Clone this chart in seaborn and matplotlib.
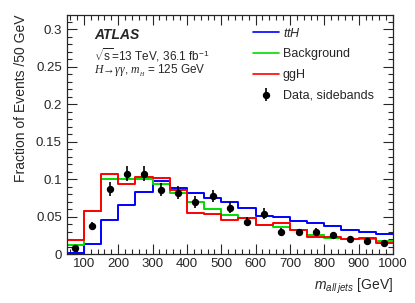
import matplotlib
matplotlib.use("Agg")
import matplotlib.pyplot as plt
from matplotlib.ticker import MultipleLocator
from matplotlib.lines import Line2D
import seaborn as sns
import numpy as np
import pandas as pd

# bin edges of m_all jets [GeV], 50 GeV wide
edges = list(range(50, 1001, 50))
centers = [e + 25 for e in edges[:-1]]

tth = [0.002, 0.013, 0.046, 0.066, 0.083, 0.098, 0.088, 0.082, 0.075, 0.069,
       0.062, 0.051, 0.050, 0.044, 0.041, 0.037, 0.032, 0.030, 0.027]
background = [0.012, 0.057, 0.100, 0.100, 0.100, 0.093, 0.081, 0.069, 0.060, 0.052,
              0.048, 0.039, 0.036, 0.032, 0.025, 0.022, 0.020, 0.020, 0.017]
ggh = [0.019, 0.058, 0.107, 0.094, 0.103, 0.102, 0.085, 0.055, 0.054, 0.045,
       0.048, 0.039, 0.041, 0.032, 0.023, 0.023, 0.020, 0.021, 0.015]
data = [0.008, 0.037, 0.087, 0.107, 0.107, 0.086, 0.082, 0.069, 0.078, 0.062,
        0.043, 0.054, 0.030, 0.029, 0.030, 0.025, 0.020, 0.018, 0.015]
data_err = [0.004, 0.0055, 0.009, 0.010, 0.010, 0.009, 0.009, 0.008, 0.008, 0.007,
            0.006, 0.007, 0.005, 0.005, 0.005, 0.004, 0.004, 0.003, 0.003]

sns.set_style("ticks")
plt.rcParams["font.family"] = ["Liberation Sans", "DejaVu Sans"]
plt.rcParams["mathtext.fontset"] = "custom"
plt.rcParams["mathtext.rm"] = "Liberation Sans"
plt.rcParams["mathtext.it"] = "Liberation Serif:italic"
plt.rcParams["mathtext.sf"] = "Liberation Sans:italic"

fig = plt.figure(figsize=(4.15, 3.03), dpi=100)
ax = fig.add_axes([0.1607, 0.1617, 0.947 - 0.1607, 0.9505 - 0.1617])

series = [("ttH", tth, "#0000ff"), ("Background", background, "#00dd00"), ("ggH", ggh, "#ff0000")]
for name, vals, color in series:
    df = pd.DataFrame({"m": centers, "w": vals})
    sns.histplot(data=df, x="m", weights="w", bins=edges, element="step", fill=False,
                 color=color, linewidth=1.4, ax=ax)

eb = ax.errorbar(centers, data, yerr=data_err, fmt="o", color="black", markersize=4.3,
                 elinewidth=1.2, capsize=0)

ax.set_xlim(50, 1000)
ax.set_ylim(0, 0.3187)
ax.xaxis.set_major_locator(MultipleLocator(100))
ax.xaxis.set_minor_locator(MultipleLocator(20))
ax.yaxis.set_major_locator(MultipleLocator(0.05))
ax.yaxis.set_minor_locator(MultipleLocator(0.01))
ax.set_yticks(np.arange(0, 0.31, 0.05))
ax.set_yticklabels(["0", "0.05", "0.1", "0.15", "0.2", "0.25", "0.3"])
ax.tick_params(which="both", direction="in", top=True, right=True, labelsize=9.5, width=0.8)
ax.tick_params(which="major", length=7)
ax.tick_params(which="minor", length=3.5)
ax.tick_params(axis="x", pad=3)
for s in ax.spines.values():
    s.set_linewidth(0.9)

ax.set_xlabel(r"$\mathsf{m}_{\mathsf{all}\;\mathsf{jets}}$ [GeV]", fontsize=10, loc="right", labelpad=5)
ax.set_ylabel("Fraction of Events /50 GeV", fontsize=10, loc="top", labelpad=6)

ax.text(0.084, 0.918, "ATLAS", transform=ax.transAxes, fontsize=10, fontweight="bold",
        fontstyle="italic", va="center")
ax.text(0.084, 0.83, r"$\sqrt{\mathrm{s}}$=13 TeV, 36.1 fb$^{-1}$", transform=ax.transAxes,
        fontsize=8.5, va="center")
ax.text(0.084, 0.765, r"$H\!\rightarrow\!\gamma\gamma$, $m_{_H}$ = 125 GeV", transform=ax.transAxes,
        fontsize=8.5, va="center")

handles = [Line2D([], [], color="#0000ff", lw=1.2),
           Line2D([], [], color="#00dd00", lw=1.2),
           Line2D([], [], color="#ff0000", lw=1.2),
           eb]
leg = ax.legend(handles, [r"$\mathsf{ttH}$", "Background", "ggH", "Data, sidebands"],
                loc="upper left", bbox_to_anchor=(0.555, 0.972), frameon=False, fontsize=9,
                handlelength=2.1, handletextpad=0.3, labelspacing=0.7, borderaxespad=0)

fig.savefig("out.png", dpi=100)
